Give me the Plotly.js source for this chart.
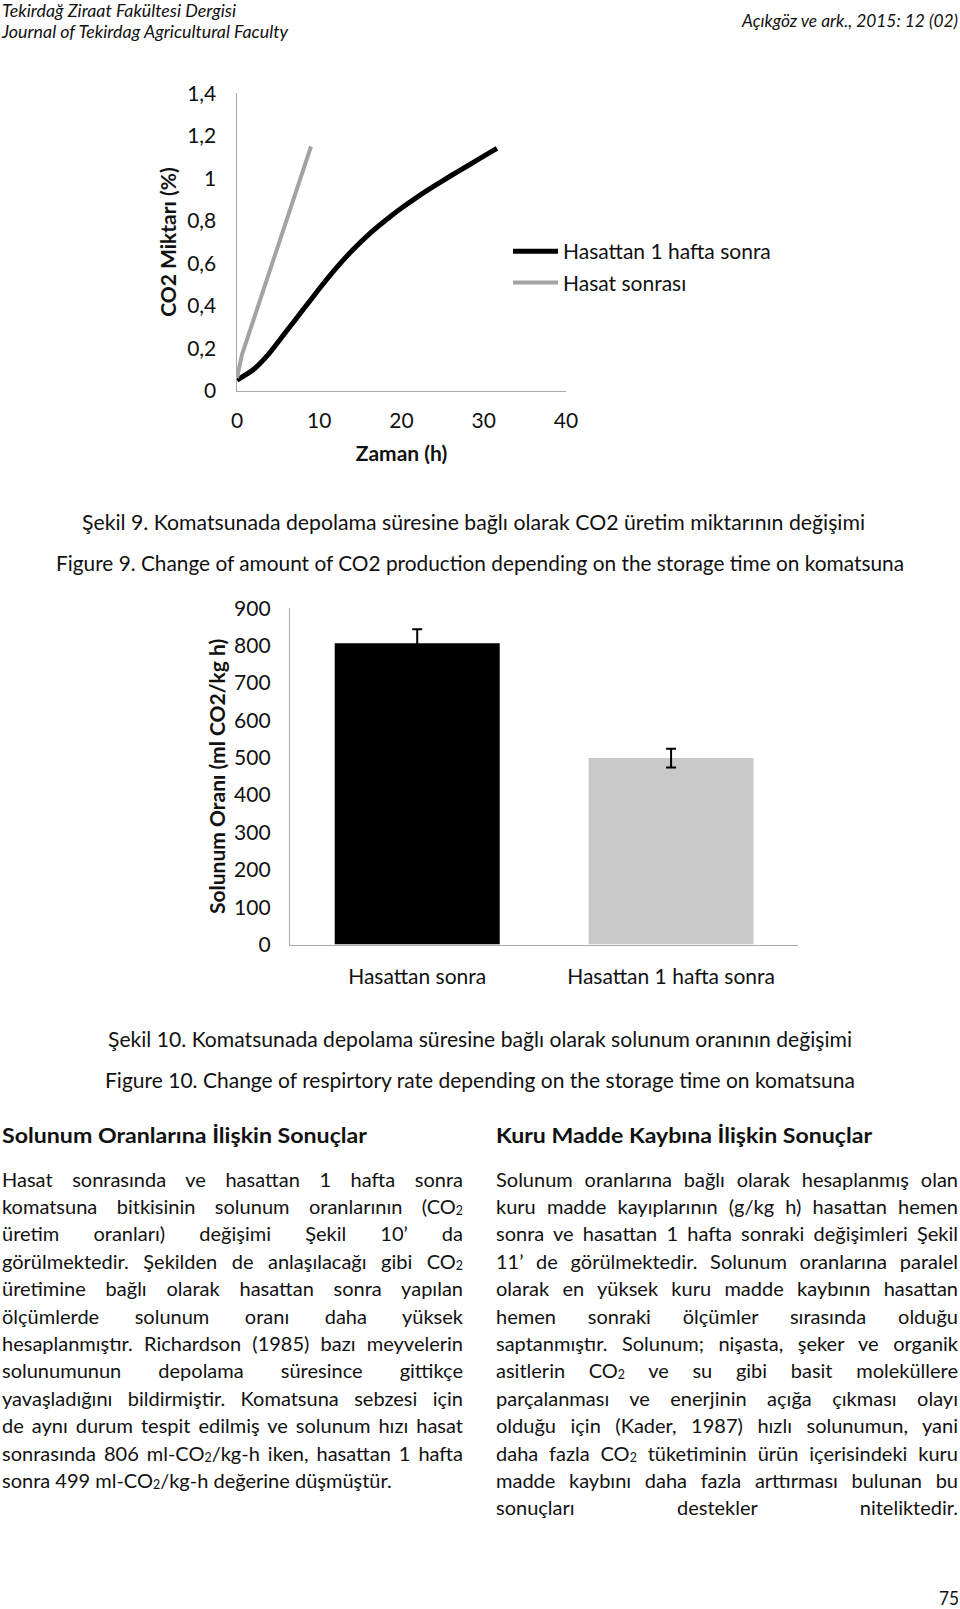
<!DOCTYPE html>
<html>
<head>
<meta charset="utf-8">
<script src="https://cdn.plot.ly/plotly-3.0.1.min.js"></script>
<style>
html,body{margin:0;padding:0;background:#fff;}
#page{position:relative;width:960px;height:1609px;overflow:hidden;font-family:Lato,'Open Sans',sans-serif;color:#111;}
#chart{position:absolute;left:0;top:0;width:960px;height:1609px;}
.t{position:absolute;display:inline-block;white-space:nowrap;line-height:24px;height:24px;transform-origin:0 50%;}
.ln{position:absolute;white-space:nowrap;line-height:24px;height:24px;font-size:20px;text-align:justify;text-align-last:justify;transform-origin:0 50%;}
.ln.last{text-align-last:left;}
sub{font-size:0.62em;vertical-align:-0.1em;line-height:0;}
.hd{font-size:18px;font-style:italic;line-height:20px;height:20px;}
.cap{font-size:22px;}
.pg{font-size:20px;}
.h2{font-size:21px;font-weight:700;}
</style>
</head>
<body>
<div id="page">
  <div id="chart"></div>
  <div id="texts"></div>
</div>
<script>
// ---------- Chart data ----------
const seriesNames = ['Hasattan 1 hafta sonra', 'Hasat sonrası'];
const timeWeek = [0, 2, 4, 6, 8, 10, 12, 14, 16, 18, 20, 22, 24, 26, 28, 30, 31.6];          // h
const co2Week  = [0.05, 0.10, 0.18, 0.28, 0.38, 0.48, 0.575, 0.66, 0.735, 0.80, 0.86, 0.914, 0.964, 1.012, 1.058, 1.104, 1.141]; // %
const timeHarvest = [0, 0.6, 4.8, 9.0];
const co2Harvest  = [0.06, 0.17, 0.66, 1.15];

const barCategories = ['Hasattan sonra', 'Hasattan 1 hafta sonra'];
const respRate = [806, 499];     // ml CO2/kg h
const respErr  = [38, 25];

// ---------- Page text ----------
const leftLines = [
 'Hasat sonrasında ve hasattan 1 hafta sonra',
 'komatsuna bitkisinin solunum oranlarının (CO<sub>2</sub>',
 'üretim oranları) değişimi Şekil 10’ da',
 'görülmektedir. Şekilden de anlaşılacağı gibi CO<sub>2</sub>',
 'üretimine bağlı olarak hasattan sonra yapılan',
 'ölçümlerde solunum oranı daha yüksek',
 'hesaplanmıştır. Richardson (1985) bazı meyvelerin',
 'solunumunun depolama süresince gittikçe',
 'yavaşladığını bildirmiştir. Komatsuna sebzesi için',
 'de aynı durum tespit edilmiş ve solunum hızı hasat',
 'sonrasında 806 ml-CO<sub>2</sub>/kg-h iken, hasattan 1 hafta',
 'sonra 499 ml-CO<sub>2</sub>/kg-h değerine düşmüştür.'
];
const rightLines = [
 'Solunum oranlarına bağlı olarak hesaplanmış olan',
 'kuru madde kayıplarının (g/kg h) hasattan hemen',
 'sonra ve hasattan 1 hafta sonraki değişimleri Şekil',
 '11’ de görülmektedir. Solunum oranlarına paralel',
 'olarak en yüksek kuru madde kaybının hasattan',
 'hemen sonraki ölçümler sırasında olduğu',
 'saptanmıştır. Solunum; nişasta, şeker ve organik',
 'asitlerin CO<sub>2</sub> ve su gibi basit moleküllere',
 'parçalanması ve enerjinin açığa çıkması olayı',
 'olduğu için (Kader, 1987) hızlı solunumun, yani',
 'daha fazla CO<sub>2</sub> tüketiminin ürün içerisindeki kuru',
 'madde kaybını daha fazla arttırması bulunan bu',
 'sonuçları destekler niteliktedir.'
];

// ---------- Build text ----------
const texts = document.getElementById('texts');
function addText(cls, html, x, top, w){
  const el = document.createElement('span');
  el.className = 't ' + cls;
  el.innerHTML = html;
  el.style.left = x + 'px';
  el.style.top = top + 'px';
  if (w) el.dataset.w = w;
  texts.appendChild(el);
}
addText('hd', 'Tekirdağ Ziraat Fakültesi Dergisi', 2, 0, 234);
addText('hd', 'Journal of Tekirdag Agricultural Faculty', 2, 21, 286);
addText('hd', 'Açıkgöz ve ark., 2015: 12 (02)', 742, 10, 216);
addText('cap', 'Şekil 9. Komatsunada depolama süresine bağlı olarak CO2 üretim miktarının değişimi', 82, 510, 783);
addText('cap', 'Figure 9. Change of amount of CO2 production depending on the storage time on komatsuna', 56, 551, 848);
addText('cap', 'Şekil 10. Komatsunada depolama süresine bağlı olarak solunum oranının değişimi', 108, 1027, 744);
addText('cap', 'Figure 10. Change of respirtory rate depending on the storage time on komatsuna', 105, 1068, 750);
addText('h2', 'Solunum Oranlarına İlişkin Sonuçlar', 2, 1123, 365);
addText('h2', 'Kuru Madde Kaybına İlişkin Sonuçlar', 496, 1123, 376);
addText('pg', '75', 939, 1585, 20);

function addColumn(lines, x, w, lastCls){
  lines.forEach((s, i) => {
    const el = document.createElement('div');
    el.className = 'ln' + ((i === lines.length - 1 && lastCls) ? ' last' : '');
    el.innerHTML = s;
    el.style.left = x + 'px';
    el.style.width = w + 'px';
    el.style.top = (1178.5 + i * 27.4 - 12) + 'px';
    texts.appendChild(el);
  });
}
addColumn(leftLines, 2, 461, true);
addColumn(rightLines, 496, 462, false);

function fitAll(){
  document.querySelectorAll('.t[data-w]').forEach(el => {
    el.style.transform = 'none';
    const nat = el.getBoundingClientRect().width;
    if (nat > 0) el.style.transform = 'scaleX(' + (+el.dataset.w / nat) + ')';
  });
  document.querySelectorAll('.ln').forEach(el => {
    el.style.transform = 'none';
    if (el.classList.contains('last')) el.style.textAlignLast = 'left';
    else el.style.textAlignLast = 'justify';
    if (el.scrollWidth > el.clientWidth + 0.5) {
      el.style.textAlignLast = 'left';
      el.style.transform = 'scaleX(' + (el.clientWidth / el.scrollWidth) + ')';
    }
  });
}

// ---------- Plotly chart ----------
const H = 1609, W = 960;
const px2x = p => p / W;
const px2y = p => 1 - p / H;
const FONT = 'Lato, "Open Sans", sans-serif';
const axisLine = '#a8a8a8';

const traces = [
  {x: timeWeek, y: co2Week, name: seriesNames[0], type: 'scatter', mode: 'lines', legendgroup: 'a',
   line: {color: '#000000', width: 5, shape: 'spline', smoothing: 0.6}, xaxis: 'x', yaxis: 'y'},
  {x: timeHarvest, y: co2Harvest, name: seriesNames[1], type: 'scatter', mode: 'lines', legendgroup: 'b',
   line: {color: '#a3a3a3', width: 4}, xaxis: 'x', yaxis: 'y'},
  {x: barCategories, y: respRate, type: 'bar', showlegend: false, xaxis: 'x2', yaxis: 'y2',
   width: 0.65, marker: {color: ['#000000', '#c9c9c9'], line: {width: 0}},
   error_y: {type: 'data', array: respErr, visible: true, color: '#000000', thickness: 2, width: 5}}
];

const baseAxis = {showline: true, linecolor: axisLine, linewidth: 1.5, showgrid: false, zeroline: false,
  ticks: '', automargin: false, fixedrange: true, tickfont: {size: 21, color: '#111'}};

const layout = {
  width: W, height: H, margin: {l: 0, r: 0, t: 0, b: 0},
  paper_bgcolor: 'rgba(0,0,0,0)', plot_bgcolor: 'rgba(0,0,0,0)',
  separators: ',.',
  font: {family: FONT, size: 21, color: '#111'},
  showlegend: true,
  legend: {x: px2x(508), y: px2y(231), xanchor: 'left', yanchor: 'top', font: {size: 21},
           bgcolor: 'rgba(0,0,0,0)', itemwidth: 45, traceorder: 'grouped', tracegroupgap: 1},
  xaxis: Object.assign({}, baseAxis, {domain: [px2x(237), px2x(566)], range: [0, 40], dtick: 10, tick0: 0,
    anchor: 'y', ticklabelstandoff: 10,
    title: {text: 'Zaman (h)', font: {size: 21, weight: 700}, standoff: 16}}),
  yaxis: Object.assign({}, baseAxis, {domain: [px2y(390.8), px2y(93.3)], range: [0, 1.4], dtick: 0.2, tick0: 0,
    anchor: 'x', ticklabelstandoff: 15,
    title: {text: 'CO2 Miktarı (%)', font: {size: 21, weight: 700}, standoff: 5}}),
  xaxis2: Object.assign({}, baseAxis, {domain: [px2x(290.3), px2x(798)], type: 'category', range: [-0.5, 1.5],
    anchor: 'y2', ticklabelstandoff: 13}),
  yaxis2: Object.assign({}, baseAxis, {domain: [px2y(944.6), px2y(608.2)], range: [0, 900], dtick: 100, tick0: 0,
    anchor: 'x2', ticklabelstandoff: 14,
    title: {text: 'Solunum Oranı (ml CO2/kg h)', font: {size: 21, weight: 700}, standoff: 2}})
};

Plotly.newPlot('chart', traces, layout, {staticPlot: true, displayModeBar: false});

fitAll();
if (document.fonts && document.fonts.ready) document.fonts.ready.then(fitAll);
window.addEventListener('load', fitAll);
</script>
</body>
</html>
